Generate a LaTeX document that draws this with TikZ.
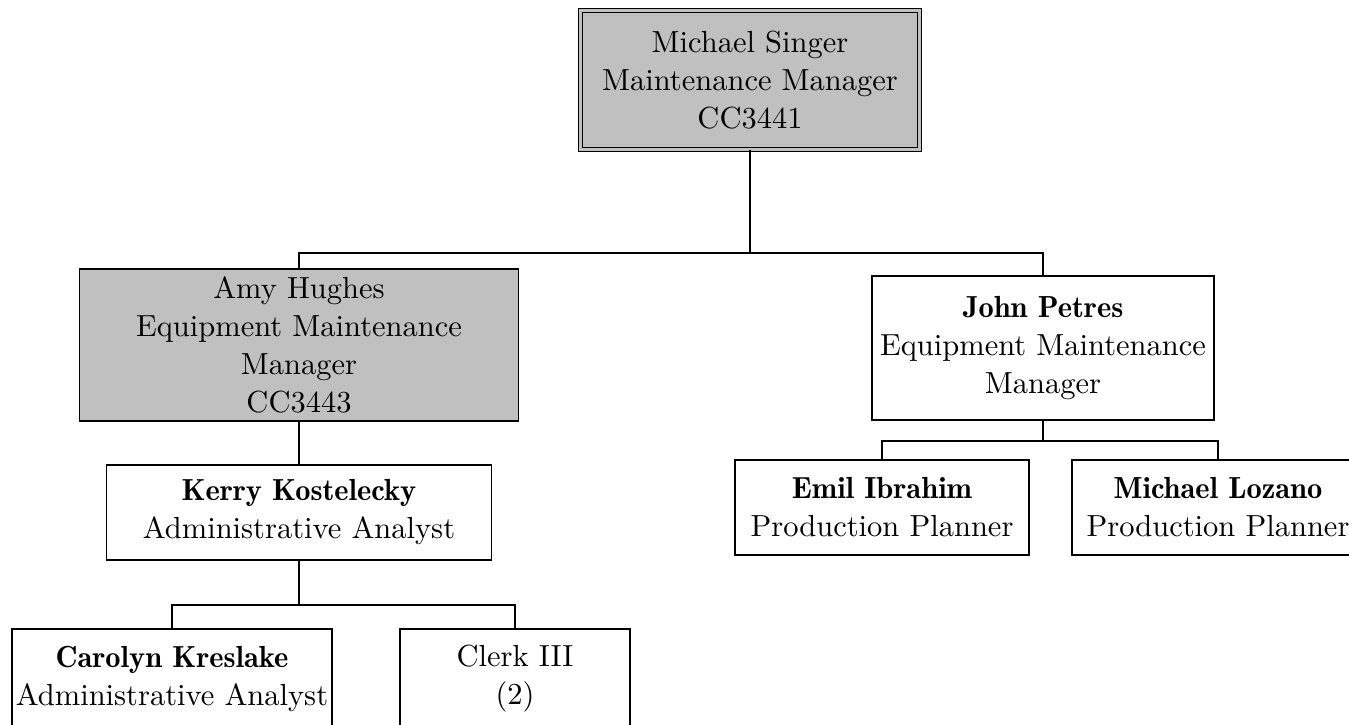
\documentclass[tikz,border=0pt]{standalone}
\usepackage{fontspec}
\setmainfont{lmroman10-regular}[Extension=.otf,BoldFont=lmromandemi10-regular]
\definecolor{boxgray}{HTML}{C0C0C0}
\tikzset{
  orgbox/.style={draw=black, line width=1.5pt, align=center, inner sep=0pt,
    font=\fontsize{30.5}{38}\selectfont, text=black},
  grayfill/.style={fill=boxgray},
  topbox/.style={orgbox, fill=boxgray, double=boxgray, double distance=3pt, line width=1.3pt},
  conn/.style={draw=black, line width=1.5pt},
}
\newcommand{\nm}[1]{\textbf{#1}}
\begin{document}
\begin{tikzpicture}[x=1pt,y=-1pt]
\useasboundingbox (0,0) rectangle (1349,724);
\node[topbox, minimum width=339pt, minimum height=139pt] (top) at (750,80)
  {Michael Singer\\Maintenance Manager\\CC3441};
\node[orgbox, grayfill, minimum width=439pt, minimum height=152pt] (amy) at (299,345)
  {Amy Hughes\\Equipment Maintenance\\Manager\\CC3443};
\node[orgbox, minimum width=342pt, minimum height=144pt] (john) at (1043,348)
  {\nm{John Petres}\\Equipment Maintenance\\Manager};
\node[orgbox, minimum width=385pt, minimum height=95pt] (kerry) at (299,512.5)
  {\nm{Kerry Kostelecky}\\Administrative Analyst};
\node[orgbox, minimum width=294pt, minimum height=95pt] (emil) at (882,507.5)
  {\nm{Emil Ibrahim}\\Production Planner};
\node[orgbox, minimum width=292pt, minimum height=95pt] (lozano) at (1218,507.5)
  {\nm{Michael Lozano}\\Production Planner};
\node[orgbox, minimum width=320pt, minimum height=100pt] (carolyn) at (172,679)
  {\nm{Carolyn Kreslake}\\Administrative Analyst};
\node[orgbox, minimum width=230pt, minimum height=100pt] (clerk) at (515,679)
  {Clerk III\\(2)};
\coordinate (j1) at (750,253);
\coordinate (j2) at (1043,441);
\coordinate (j3) at (299,605);
\draw[conn] (top.south) -- (j1);
\draw[conn] (amy.north) |- (j1) -| (john.north);
\draw[conn] (amy.south) -- (kerry.north);
\draw[conn] (john.south) -- (j2);
\draw[conn] (emil.north) |- (j2) -| (lozano.north);
\draw[conn] (kerry.south) -- (j3);
\draw[conn] (carolyn.north) |- (j3) -| (clerk.north);
\end{tikzpicture}
\end{document}
